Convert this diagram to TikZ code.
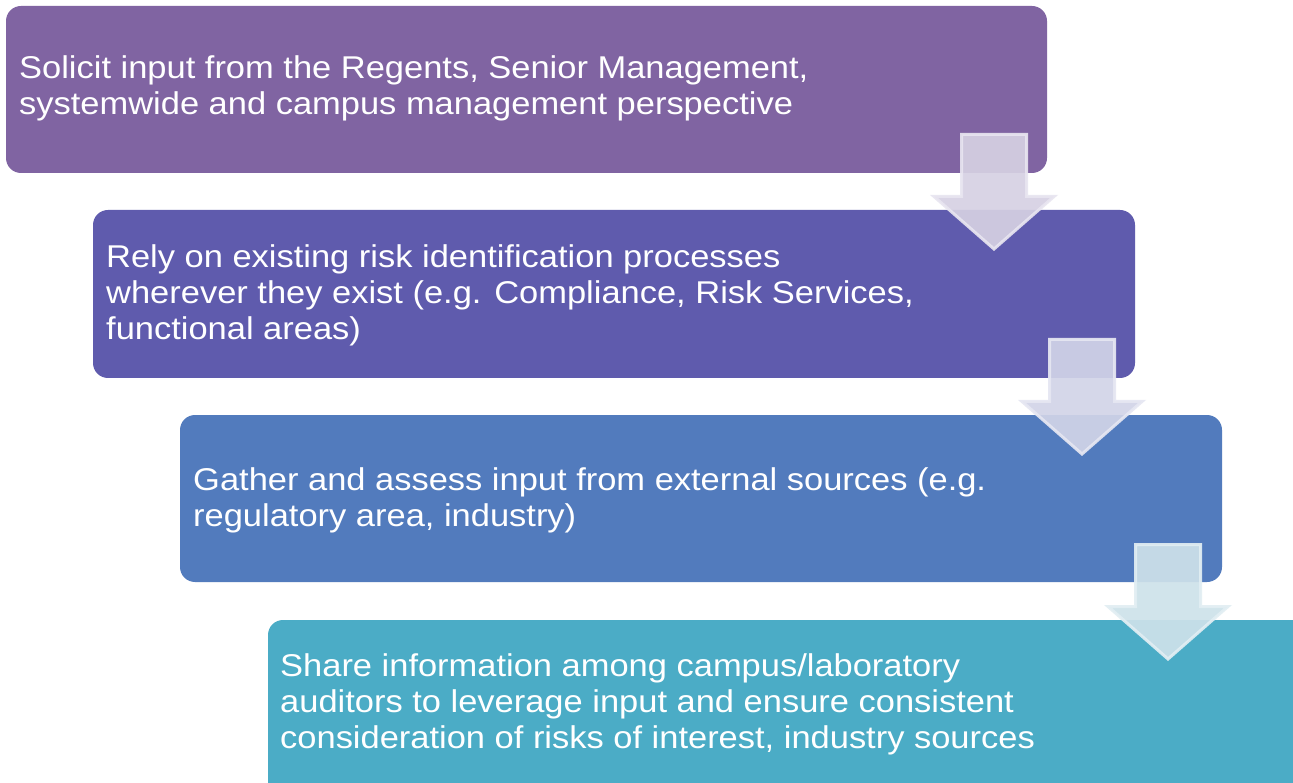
\documentclass[tikz,border=0pt]{standalone}
\usepackage{fontspec}
\setmainfont[FakeStretch=1.094]{Liberation Sans}
\usetikzlibrary{calc}
\definecolor{cA}{RGB}{128,100,162}
\definecolor{cB}{RGB}{95,91,173}
\definecolor{cC}{RGB}{82,123,189}
\definecolor{cD}{RGB}{75,172,198}
\definecolor{aA}{RGB}{214,209,227}
\definecolor{aAb}{RGB}{232,229,240}
\definecolor{aB}{RGB}{210,212,232}
\definecolor{aBb}{RGB}{230,231,242}
\definecolor{aC}{RGB}{206,226,234}
\definecolor{aCb}{RGB}{226,238,243}
\tikzset{
  x=1pt, y=-1pt,
  stepbox/.style={inner sep=0pt, text=white, align=left, anchor=base west, font=\fontsize{31.5}{36}\selectfont},
  downarrow/.style={line width=3pt, line join=miter, opacity=0.92}
}
\begin{document}
\begin{tikzpicture}
\useasboundingbox (0,0) rectangle (1293,783);
\clip (0,0) rectangle (1293,783);
\fill[white] (0,0) rectangle (1293,783);
% boxes
\fill[cA, rounded corners=15pt] (6,6) rectangle (1047,173);
\fill[cB, rounded corners=15pt] (93,210) rectangle (1135,378);
\fill[cC, rounded corners=15pt] (180,415) rectangle (1222,582);
\fill[cD, rounded corners=15pt] (268,620) rectangle (1320,800);
% texts (anchored at baseline of last line)
\node[stepbox] (t1) at (19,115) {Solicit input from the Regents, Senior Management,\\systemwide and campus management perspective};
\node[stepbox] (t2) at (106,339.5) {Rely on existing risk identification processes\\wherever they exist (e.g. Compliance, Risk Services,\\functional areas)};
\node[stepbox] (t3) at (193,526.5) {Gather and assess input from external sources (e.g.\\regulatory area, industry)};
\node[stepbox] (t4) at (280,748.5) {Share information among campus/laboratory\\auditors to leverage input and ensure consistent\\consideration of risks of interest, industry sources};
% arrows
\filldraw[downarrow, fill=aA, draw=aAb] (961.5,134.5) -- (1026.5,134.5) -- (1026.5,196.5) -- (1054,196.5) -- (994,249) -- (934,196.5) -- (961.5,196.5) -- cycle;
\filldraw[downarrow, fill=aB, draw=aBb] (1049.5,339.5) -- (1114.5,339.5) -- (1114.5,401.5) -- (1142,401.5) -- (1082,454) -- (1022,401.5) -- (1049.5,401.5) -- cycle;
\filldraw[downarrow, fill=aC, draw=aCb] (1135.5,544.5) -- (1200.5,544.5) -- (1200.5,606.5) -- (1228,606.5) -- (1168,659) -- (1108,606.5) -- (1135.5,606.5) -- cycle;
\end{tikzpicture}
\end{document}
